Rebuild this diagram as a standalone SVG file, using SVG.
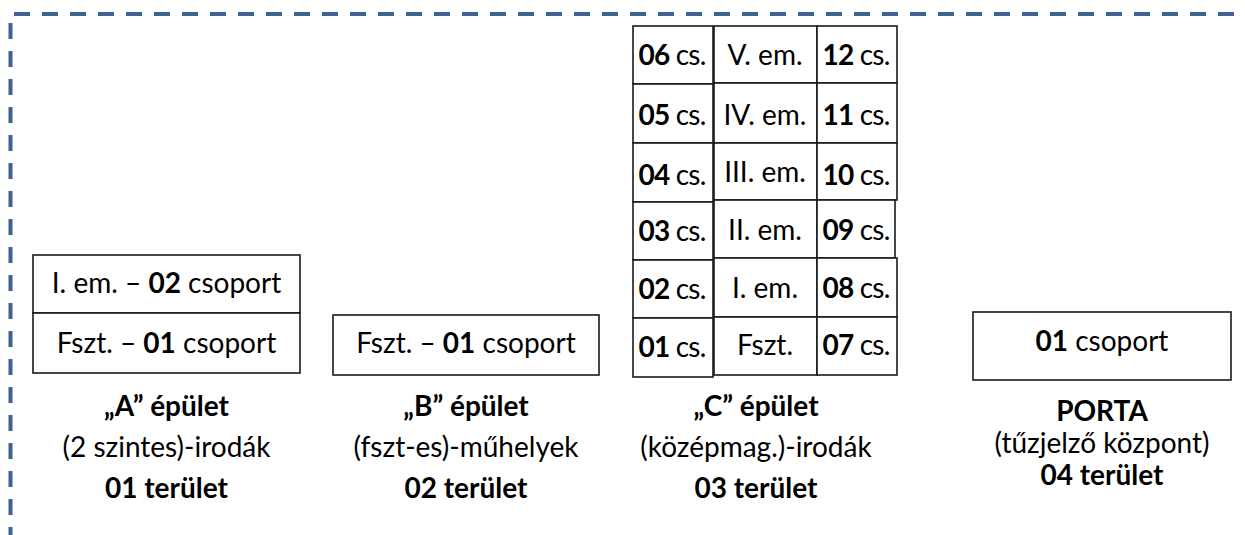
<svg xmlns="http://www.w3.org/2000/svg" width="1245" height="535" viewBox="0 0 1245 535">
<style>
.frame{fill:none;stroke:#3E6291;stroke-width:4;stroke-dasharray:16 12}
.box{fill:#fff;stroke:#1a1a1a;stroke-width:1.6}
text{font-family:Lato,"Liberation Sans",sans-serif;font-size:28px;fill:#000;text-anchor:middle}
.b{font-weight:bold}
.cs{letter-spacing:-0.8px}
</style>
<rect width="1245" height="535" fill="#fff"/>
<g id="frame">
<line class="frame" x1="14" y1="14" x2="1245" y2="14"/>
<line class="frame" x1="10.5" y1="23" x2="10.5" y2="535"/>
</g>
<g id="connectors"/>
<g id="building-A">
<rect class="box" x="33" y="255" width="267" height="58"/>
<rect class="box" x="33" y="313" width="267" height="60"/>
<text x="166.5" y="293">I. em. – <tspan class="b">02</tspan> csoport</text>
<text x="166.5" y="353">Fszt. – <tspan class="b">01</tspan> csoport</text>
<text x="166.5" y="416" class="b">„A” épület</text>
<text x="166.5" y="457">(2 szintes)-irodák</text>
<text x="166.5" y="498" class="b">01 terület</text>
</g>
<g id="building-B">
<rect class="box" x="333" y="315" width="266" height="60"/>
<text x="466" y="353">Fszt. – <tspan class="b">01</tspan> csoport</text>
<text x="466" y="416" class="b">„B” épület</text>
<text x="466" y="457">(fszt-es)-műhelyek</text>
<text x="466" y="498" class="b">02 terület</text>
</g>
<g id="building-C">
<g id="C-left">
<rect class="box" x="633" y="26" width="80" height="58"/>
<rect class="box" x="633" y="84" width="80" height="59"/>
<rect class="box" x="633" y="143" width="80" height="59"/>
<rect class="box" x="633" y="202" width="80" height="58"/>
<rect class="box" x="633" y="260" width="80" height="58"/>
<rect class="box" x="633" y="318" width="80" height="59"/>
<text class="cs" x="672" y="65"><tspan class="b">06</tspan> cs.</text>
<text class="cs" x="672" y="125"><tspan class="b">05</tspan> cs.</text>
<text class="cs" x="672" y="185"><tspan class="b">04</tspan> cs.</text>
<text class="cs" x="672" y="241"><tspan class="b">03</tspan> cs.</text>
<text class="cs" x="672" y="299"><tspan class="b">02</tspan> cs.</text>
<text class="cs" x="672" y="357"><tspan class="b">01</tspan> cs.</text>
</g>
<g id="C-middle">
<rect class="box" x="714" y="26" width="103" height="57"/>
<rect class="box" x="714" y="83" width="103" height="60"/>
<rect class="box" x="714" y="143" width="103" height="57"/>
<rect class="box" x="714" y="200" width="103" height="58"/>
<rect class="box" x="714" y="258" width="103" height="59"/>
<rect class="box" x="714" y="317" width="103" height="58"/>
<text x="765" y="65">V. em.</text>
<text x="765" y="125">IV. em.</text>
<text x="765" y="182">III. em.</text>
<text x="765" y="240">II. em.</text>
<text x="765" y="298">I. em.</text>
<text x="765" y="355">Fszt.</text>
</g>
<g id="C-right">
<rect class="box" x="817" y="26" width="80" height="57"/>
<rect class="box" x="817" y="83" width="80" height="60"/>
<rect class="box" x="817" y="143" width="80" height="57"/>
<rect class="box" x="817" y="200" width="78" height="58"/>
<rect class="box" x="817" y="258" width="80" height="59"/>
<rect class="box" x="817" y="317" width="80" height="58"/>
<text class="cs" x="856" y="65"><tspan class="b">12</tspan> cs.</text>
<text class="cs" x="856" y="125"><tspan class="b">11</tspan> cs.</text>
<text class="cs" x="856" y="185"><tspan class="b">10</tspan> cs.</text>
<text class="cs" x="856" y="240"><tspan class="b">09</tspan> cs.</text>
<text class="cs" x="856" y="298"><tspan class="b">08</tspan> cs.</text>
<text class="cs" x="856" y="355"><tspan class="b">07</tspan> cs.</text>
</g>
<text x="756" y="416" class="b">„C” épület</text>
<text x="756" y="457">(középmag.)-irodák</text>
<text x="756" y="498" class="b">03 terület</text>
</g>
<g id="porta">
<rect class="box" x="973" y="312" width="258" height="68"/>
<text x="1102" y="351"><tspan class="b">01</tspan> csoport</text>
<text x="1102" y="421" class="b">PORTA</text>
<text x="1102" y="453">(tűzjelző központ)</text>
<text x="1102" y="485" class="b">04 terület</text>
</g>
</svg>
